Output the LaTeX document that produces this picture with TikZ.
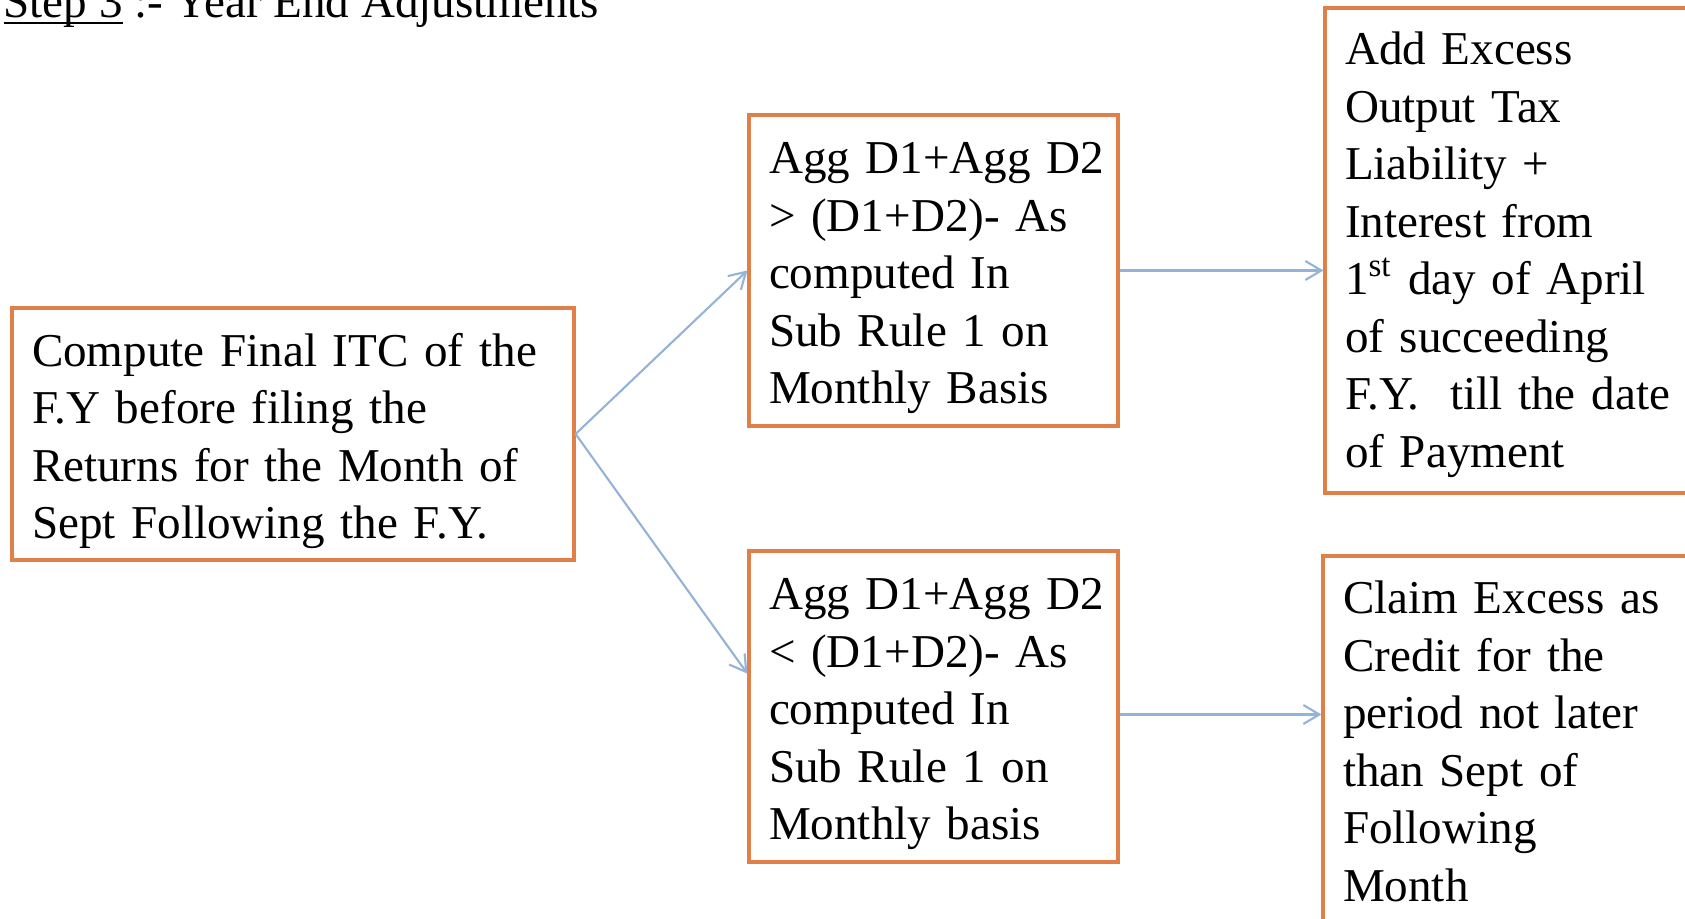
\documentclass[tikz,border=0pt]{standalone}
\usepackage{fontspec}
\setmainfont{Liberation Serif}
\usepackage{xcolor}
\usetikzlibrary{arrows.meta}
\definecolor{boxorange}{RGB}{224,128,72}
\definecolor{linkblue}{RGB}{149,179,215}
\newcommand{\padtop}[1]{\rule{0pt}{#1}}
\newcommand{\padbot}[1]{\rule[-#1]{0pt}{#1}}
\tikzset{>={Straight Barb[length=1.6mm,width=1.9mm]}}
\tikzset{
  stepbox/.style={draw=boxorange, line width=0.9pt, align=left, inner xsep=0.2cm, inner ysep=0pt,
    font=\fontsize{13.4pt}{16.36pt}\selectfont},
  link/.style={->, draw=linkblue, line width=0.6pt}
}

\begin{document}
\begin{tikzpicture}
    \useasboundingbox (0,0) rectangle (16.85,-9.19);
    \fill[white] (0,0) rectangle (16.85,-9.19);

    \node[anchor=base east, inner sep=0pt, font=\fontsize{13.4pt}{16.36pt}\selectfont] (title) at (6.0,-0.18) {\underline{\smash{Step 3}} :- Year End Adjustments};

    \node[stepbox, text width=5.22cm, minimum height=2.52cm] (itc) at (2.93,-4.34)
      {\padtop{13.4pt}Compute~Final~ITC~of~the\\F.Y before filing the\\Returns~for~the~Month~of\\Sept~Following~the~F.Y.};
    \node[stepbox, text width=3.29cm, minimum height=3.11cm] (ma) at (9.335,-2.705)
      {\padtop{13.4pt}Agg~D1+Agg~D2\\> (D1+D2)- As\\computed In\\Sub Rule 1 on\\Monthly Basis};
    \node[stepbox, text width=3.29cm, minimum height=3.11cm] (mb) at (9.335,-7.065)
      {\padtop{13.4pt}Agg~D1+Agg~D2\\< (D1+D2)- As\\computed In\\Sub Rule 1 on\\Monthly basis};
    \node[stepbox, text width=3.6cm, minimum height=4.85cm] (ra) at (15.25,-2.505)
      {\padtop{11.6pt}Add Excess\\Output Tax\\Liability +\\Interest from\\1\textsuperscript{st} day of April\\of succeeding\\F.Y.\ \ till~the~date\\of Payment};
    \node[stepbox, text width=3.6cm, minimum height=3.79cm] (rb) at (15.23,-7.455)
      {Claim Excess as\\Credit for the\\period~not~later\\than Sept of\\Following\\Month\padbot{2.6pt}};

      \draw[link] (itc.east) -- (ma.west);
      \draw[link] (itc.east) -- (mb.170);
      \draw[link] (ma.east) -- (ma.east -| ra.west);
      \draw[link] ([yshift=-0.08cm]mb.east) -- ([yshift=-0.08cm]mb.east -| rb.west);
\end{tikzpicture}
\end{document}
